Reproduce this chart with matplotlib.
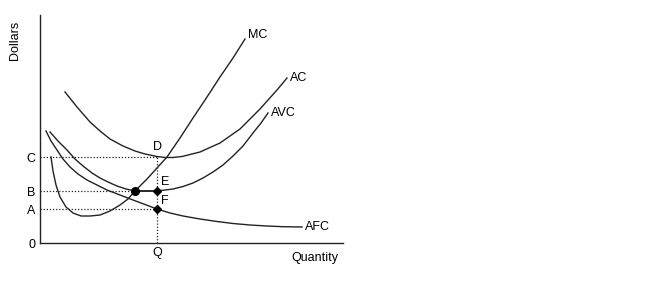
import matplotlib
matplotlib.use("Agg")
import matplotlib.pyplot as plt

plt.rcParams['font.family'] = ['Liberation Sans', 'DejaVu Sans']

# cost curves (quantity, dollars)
mc_x = [11, 13, 16, 20, 26, 33, 41, 50, 60, 70, 80, 88, 95, 107, 117, 127, 140, 153, 167, 180, 193, 205]
mc_y = [86, 72, 58, 46, 36, 30, 27, 27, 28, 32, 38, 44, 52, 64, 75, 86, 105, 125, 146, 166, 185, 204]

ac_x = [25, 37, 50, 60, 70, 83, 95, 105, 117, 125, 133, 142, 160, 180, 200, 220, 237, 247]
ac_y = [151, 136, 121, 112, 104, 97, 92, 89, 86.5, 85.5, 85.5, 86.5, 91, 100, 114, 134, 153, 165]

avc_x = [10, 18, 27, 35, 43, 52, 60, 68, 77, 86, 95, 106, 117, 125, 133, 143, 153, 163, 173, 183, 193, 203, 213, 221, 228]
avc_y = [111, 102, 93, 84, 77, 70, 65, 61, 57, 54, 52, 52, 52, 53, 54, 56.5, 60, 65, 71, 78, 87, 97, 110, 120, 130]

afc_x = [6, 11, 17, 23, 30, 38, 47, 57, 67, 80, 93, 105, 117, 130, 143, 160, 177, 193, 210, 227, 243, 262]
afc_y = [112, 102, 93, 84, 76, 69, 63, 58, 53, 48, 43, 38.5, 34, 30, 27, 24, 21.5, 19.5, 18, 17, 16.3, 16]

# levels on the axes
Q = 117
C, B, A = 86, 52, 34
q_min_avc = 95

fig = plt.figure(figsize=(6.68, 2.87), dpi=100)
ax = fig.add_axes([40 / 668, 44 / 287, 303 / 668, 228 / 287])
ax.set_xlim(0, 303)
ax.set_ylim(0, 228)

col = '#222222'
for xs, ys in [(mc_x, mc_y), (ac_x, ac_y), (avc_x, avc_y), (afc_x, afc_y)]:
    ax.plot(xs, ys, color=col, lw=1.0, solid_joinstyle='round')

# dotted guides
dot = dict(color=col, lw=0.9, linestyle=(0, (1, 1.5)))
ax.plot([0, Q], [C, C], **dot)
ax.plot([0, q_min_avc], [B, B], **dot)
ax.plot([0, Q], [A, A], **dot)
ax.plot([Q, Q], [0, C], **dot)
ax.plot([q_min_avc, Q], [B, B], color=col, lw=1.2)

# points
ax.plot([q_min_avc], [B], 'o', color='black', ms=5.5)
ax.plot([Q, Q], [B, A], 'D', color='black', ms=4.5)

fs = 9
ax.text(Q, C + 4, 'D', fontsize=fs, ha='center', va='bottom')
ax.text(Q + 4, B + 3, 'E', fontsize=fs, ha='left', va='bottom')
ax.text(Q + 4, A + 2, 'F', fontsize=fs, ha='left', va='bottom')

ax.text(mc_x[-1] + 3, mc_y[-1] + 4, 'MC', fontsize=fs, ha='left', va='center')
ax.text(ac_x[-1] + 3, ac_y[-1], 'AC', fontsize=fs, ha='left', va='center')
ax.text(avc_x[-1] + 3, avc_y[-1], 'AVC', fontsize=fs, ha='left', va='center')
ax.text(afc_x[-1] + 3, afc_y[-1], 'AFC', fontsize=fs, ha='left', va='center')

ax.set_yticks([0, A, B, C])
ax.set_yticklabels(['0', 'A', 'B', 'C'], fontsize=fs)
ax.set_xticks([Q])
ax.set_xticklabels(['Q'], fontsize=fs)
ax.tick_params(length=0, pad=3)

for s in ['top', 'right']:
    ax.spines[s].set_visible(False)
for s in ['left', 'bottom']:
    ax.spines[s].set_color(col)
    ax.spines[s].set_linewidth(1.0)

fig.text(15 / 668, 1 - 40 / 287, 'Dollars', rotation=90, fontsize=fs, ha='center', va='center')
fig.text(315 / 668, 1 - 258 / 287, 'Quantity', fontsize=fs, ha='center', va='center')

fig.savefig('out.png', dpi=100, facecolor='white')
